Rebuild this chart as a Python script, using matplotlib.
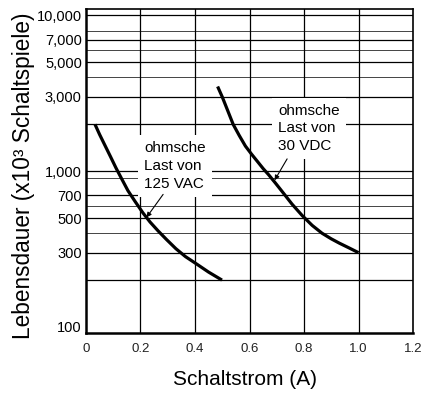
import matplotlib
matplotlib.use("Agg")
import matplotlib.pyplot as plt

# Kurvenwerte (Schaltstrom in A, Lebensdauer in x10^3 Schaltspiele)
vac_x = [0.033, 0.05, 0.07, 0.09, 0.11, 0.13, 0.154, 0.18, 0.209, 0.235,
         0.264, 0.295, 0.33, 0.365, 0.404, 0.45, 0.499]
vac_y = [2000, 1720, 1460, 1240, 1050, 900, 750, 640, 540, 472,
         415, 365, 318, 283, 255, 225, 200]

vdc_x = [0.483, 0.5, 0.52, 0.54, 0.562, 0.585, 0.607, 0.63, 0.65, 0.67,
         0.695, 0.72, 0.756, 0.793, 0.83, 0.866, 0.9, 0.93, 0.965, 1.0]
vdc_y = [3500, 3000, 2450, 2000, 1700, 1450, 1290, 1150, 1040, 950,
         840, 740, 615, 520, 449, 400, 368, 345, 322, 300]

x_ticks = [0, 0.2, 0.4, 0.6, 0.8, 1.0, 1.2]
x_labels = ["0", "0.2", "0.4", "0.6", "0.8", "1.0", "1.2"]
y_ticks = [100, 300, 500, 700, 1000, 3000, 5000, 7000, 10000]
y_labels = ["100", "300", "500", "700", "1,000", "3,000", "5,000", "7,000", "10,000"]
y_grid_major = [200, 300, 500, 700, 1000, 2000, 3000, 5000, 7000, 10000]
y_grid_minor = [400, 600, 900, 4000, 6000, 8000]

plt.rcParams['font.family'] = ['Liberation Sans', 'DejaVu Sans']

fig = plt.figure(figsize=(4.23, 3.95), dpi=100)
ax = fig.add_axes([0.2033, 0.157, 0.7731, 0.820])

ax.set_yscale('log')
ax.set_xlim(0, 1.2)
ax.set_ylim(91.5, 10990)

for v in y_grid_major:
    ax.axhline(v, color='black', lw=0.9, zorder=1)
for v in y_grid_minor:
    ax.axhline(v, color='#444444', lw=0.7, zorder=1)
for v in x_ticks[1:-1]:
    ax.axvline(v, color='black', lw=0.9, zorder=1)

ax.plot(vac_x, vac_y, color='black', lw=2.3, solid_capstyle='butt',
        solid_joinstyle='round', zorder=4)
ax.plot(vdc_x, vdc_y, color='black', lw=2.3, solid_capstyle='butt',
        solid_joinstyle='round', zorder=4)

box = dict(boxstyle='square,pad=0.4', fc='white', ec='none')
ax.text(0.214, 1560, "ohmsche\nLast von\n125 VAC", fontsize=11, ha='left', va='top',
        linespacing=1.36, bbox=box, zorder=3)
ax.text(0.706, 2700, "ohmsche\nLast von\n30 VDC", fontsize=11, ha='left', va='top',
        linespacing=1.3, bbox=box, zorder=3)

arrow = dict(arrowstyle='-|>', color='black', lw=0.8, mutation_scale=7,
             shrinkA=0, shrinkB=0)
ax.annotate("", xy=(0.222, 505), xytext=(0.283, 710), arrowprops=arrow, zorder=5)
ax.annotate("", xy=(0.692, 875), xytext=(0.738, 1200), arrowprops=arrow, zorder=5)

ax.set_xticks(x_ticks, x_labels)
ax.set_yticks(y_ticks, y_labels)
ax.yaxis.set_minor_locator(matplotlib.ticker.NullLocator())
ax.tick_params(axis='both', length=0)
ax.tick_params(axis='y', labelsize=10.5, pad=3)
ax.tick_params(axis='x', labelsize=9.5, pad=7, labelcolor='#222222')

for side in ['top', 'right']:
    ax.spines[side].set_linewidth(1.2)
for side in ['left', 'bottom']:
    ax.spines[side].set_linewidth(1.8)

ax.set_ylabel("Lebensdauer (x10³ Schaltspiele)", fontsize=16.3)
ax.yaxis.set_label_coords(-0.156, 0.485)
ax.set_xlabel("Schaltstrom (A)", fontsize=15)
ax.xaxis.set_label_coords(0.486, -0.113)
ax.xaxis.label.set_va('top')

fig.savefig("out.png", dpi=100)
